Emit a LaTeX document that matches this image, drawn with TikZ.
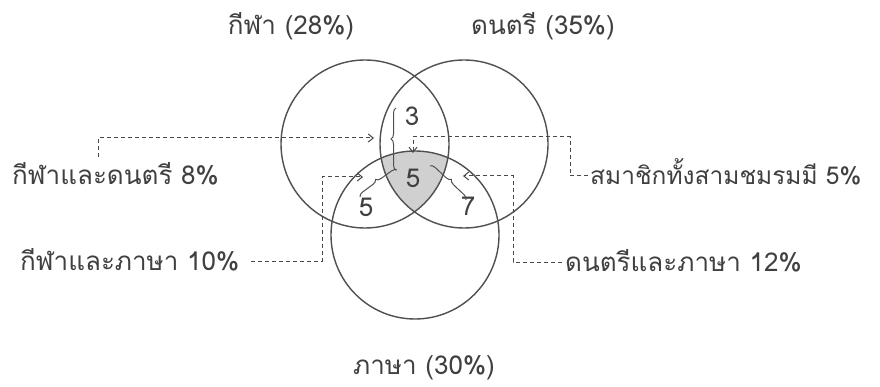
\documentclass[tikz,border=0pt]{standalone}
\usepackage{fontspec}
\newfontfamily\thaifont[Script=Thai]{Loma}
\usetikzlibrary{decorations.pathreplacing,arrows.meta}
\definecolor{txtc}{HTML}{404040}
\definecolor{ringc}{HTML}{505050}
\definecolor{connc}{HTML}{484848}
\definecolor{shadec}{HTML}{D0D0D0}
\begin{document}
\begin{tikzpicture}[x=1pt,y=-1pt,
  txt/.style={font=\thaifont\fontsize{26}{30}\selectfont, text=txtc, inner sep=0pt},
  ring/.style={circle, draw=ringc, line width=1.4pt, minimum size=168pt, inner sep=0pt},
  conn/.style={draw=connc, line width=1pt, dash pattern=on 4pt off 3pt},
  tipped/.style={-{Straight Barb[length=5pt,width=8pt]}},
  brc/.style={draw=ringc, line width=1pt, decorate, decoration={brace, amplitude=5pt}},
  num/.style={font=\thaifont\fontsize{26}{30}\selectfont, text=txtc, inner sep=0pt}]
\useasboundingbox (0,0) rectangle (880,387);
\fill[white] (0,0) rectangle (880,387);
% shaded triple intersection
\begin{scope}
  \clip (365,144) circle[radius=84pt];
  \clip (464,144) circle[radius=84pt];
  \fill[shadec] (415,235) circle[radius=84pt];
\end{scope}
% circles
\node[ring] (sport) at (365,144) {};
\node[ring] (music) at (464,144) {};
\node[ring] (lang)  at (415,235) {};
% circle titles
\node[txt, anchor=base] (sportlbl) at (291,35) {กีฬา (28\%)};
\node[txt, anchor=base] (musiclbl) at (543,35) {ดนตรี (35\%)};
\node[txt, anchor=base] (langlbl)  at (424,374) {ภาษา (30\%)};
% numbers
\node[num] (n3)  at (412,116) {3};
\node[num] (n5c) at (413,178) {5};
\node[num] (n5l) at (366,207) {5};
\node[num] (n7)  at (468,206) {7};
% side labels
\node[txt, anchor=base west] (sm)  at (12,185)  {กีฬาและดนตรี 8\%};
\node[txt, anchor=base west] (sl)  at (20,270)  {กีฬาและภาษา 10\%};
\node[txt, anchor=base west, font=\thaifont\fontsize{24.5}{28}\selectfont] (all) at (590,185) {สมาชิกทั้งสามชมรมมี 5\%};
\node[txt, anchor=base west] (ml)  at (565,271) {ดนตรีและภาษา 12\%};
% braces
\draw[brc] (396,170) -- (396,108);
\draw[brc] (360,197) -- (397,170);
\draw[brc] (430,166) -- (466,200);
% connector points
\coordinate (t1) at (374,138);
\coordinate (t2) at (413,153);
\coordinate (k2) at (570,137);
\coordinate (t3) at (463,176);
\coordinate (k3) at (513,176);
\coordinate (t4) at (363,177);
\coordinate (k4) at (322,177);
% connectors
\draw[conn,tipped] ([xshift=86pt,yshift=6pt]sm.north west) |- (t1);
\draw[conn,tipped] ([xshift=-2pt,yshift=9pt]all.base west) -| (k2) -| (t2);
\draw[conn,tipped] ([xshift=-3pt,yshift=9pt]ml.base west) -| (k3) -- (t3);
\draw[conn,tipped] ([xshift=12pt,yshift=9pt]sl.base east) -| (k4) -- (t4);
\end{tikzpicture}
\end{document}
